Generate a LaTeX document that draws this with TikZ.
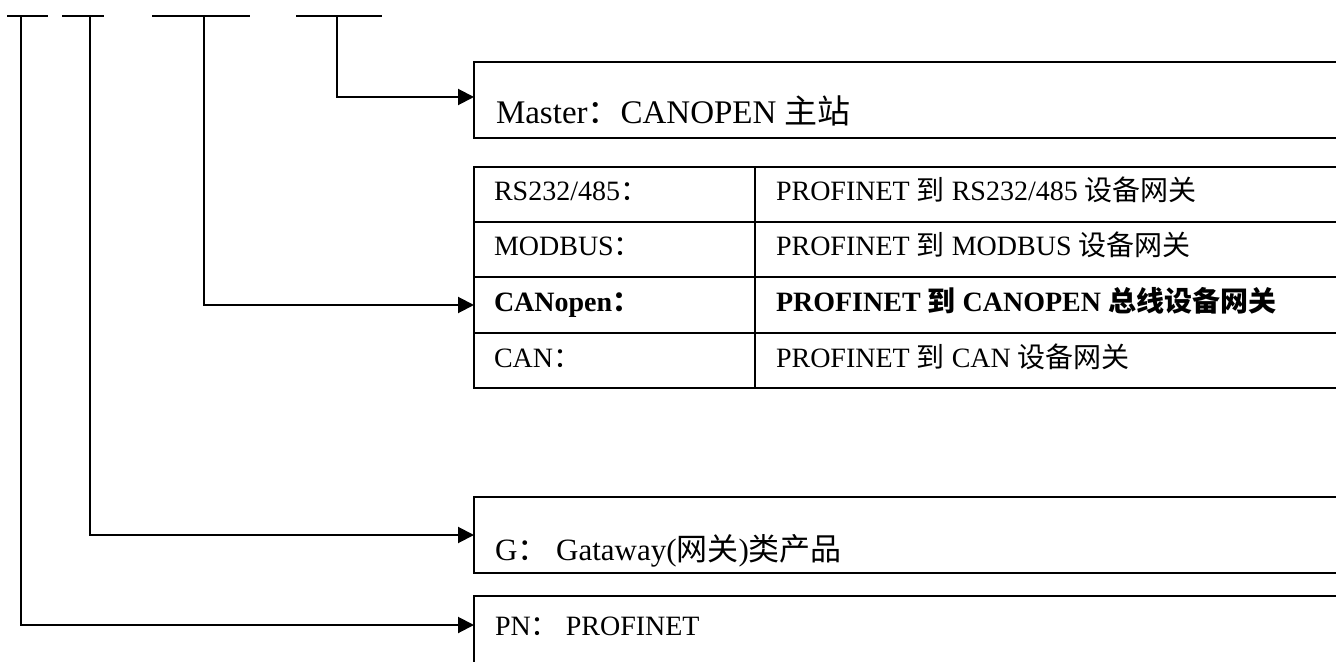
\documentclass[tikz,border=0pt]{standalone}
\usepackage{fontspec}
\setmainfont{Liberation Serif}
\newfontfamily\cjk{Noto Sans CJK SC}
\usetikzlibrary{arrows.meta}

\begin{document}
\begin{tikzpicture}[x=.5pt,y=-.5pt]
	\tikzstyle{every node}=[inner sep=0pt, outer sep=0pt, font=\fontsize{14}{17}\selectfont]
	\tikzstyle{box}=[draw, line width=.9pt, minimum width=433pt]
	\tikzstyle{cell}=[draw, line width=.9pt, minimum height=27.6pt]
	\tikzstyle{txt}=[anchor=base west]
	\tikzstyle{link}=[line width=1pt, -{Triangle[length=8pt,width=8pt]}]
	\useasboundingbox (0,0) rectangle (1336,662);
	\clip (0,0) rectangle (1336,662);
	% code bars
	\draw[line width=.9pt] (7,16) -- (48,16);
	\draw[line width=.9pt] (62,16) -- (104,16);
	\draw[line width=.9pt] (152,16) -- (250,16);
	\draw[line width=.9pt] (296,16) -- (382,16);
	\coordinate (b1) at (21,16);
	\coordinate (b2) at (90,16);
	\coordinate (b3) at (204,16);
	\coordinate (b4) at (337,16);
	% master
	\node[box, minimum height=38pt] (master) at (907,100) {};
	\node[txt, font=\fontsize{16.5}{19}\selectfont] (mastertxt) at (496,124) {Master{\cjk ：}CANOPEN {\cjk 主站}};
	% table
	\node[cell, minimum width=140.5pt] (r1a) at (614.5,194.6) {};
	\node[cell, minimum width=292.5pt] (r1b) at (1047.5,194.6) {};
	\node[cell, minimum width=140.5pt] (r2a) at (614.5,249.8) {};
	\node[cell, minimum width=292.5pt] (r2b) at (1047.5,249.8) {};
	\node[cell, minimum width=140.5pt] (r3a) at (614.5,305) {};
	\node[cell, minimum width=292.5pt] (r3b) at (1047.5,305) {};
	\node[cell, minimum width=140.5pt] (r4a) at (614.5,360.2) {};
	\node[cell, minimum width=292.5pt] (r4b) at (1047.5,360.2) {};
	\node[txt] (t1a) at (494,201) {RS232/485{\cjk ：}};
	\node[txt] (t1b) at (776,201) {PROFINET {\cjk 到} RS232/485 {\cjk 设备网关}};
	\node[txt] (t2a) at (494,256) {MODBUS{\cjk ：}};
	\node[txt] (t2b) at (776,256) {PROFINET {\cjk 到} MODBUS {\cjk 设备网关}};
	\node[txt, font=\fontsize{14}{17}\selectfont\bfseries] (t3a) at (494,312) {CANopen{\cjk ：}};
	\node[txt, font=\fontsize{14}{17}\selectfont\bfseries] (t3b) at (776,312) {PROFINET {\cjk 到} CANOPEN {\cjk 总线设备网关}};
	\node[txt] (t4a) at (494,367) {CAN{\cjk ：}};
	\node[txt] (t4b) at (776,367) {PROFINET {\cjk 到} CAN {\cjk 设备网关}};
	% gateway and protocol
	\node[box, minimum height=38pt] (gbox) at (907,535) {};
	\node[txt, font=\fontsize{15.5}{18}\selectfont] (gtxt) at (495,560) {G{\cjk ：} Gataway({\cjk 网关}){\cjk 类产品}};
	\node[box, minimum height=52pt] (pnbox) at (907,648) {};
	\node[txt] (pntxt) at (495,635) {PN{\cjk ：} PROFINET};
	% arrows
	\draw[link] (b4) |- ([yshift=1.5pt]master.west);
	\draw[link] (b3) |- (r3a.west);
	\draw[link] (b2) |- (gbox.west);
	\draw[link] (b1) |- ([yshift=11.5pt]pnbox.west);
\end{tikzpicture}
\end{document}
